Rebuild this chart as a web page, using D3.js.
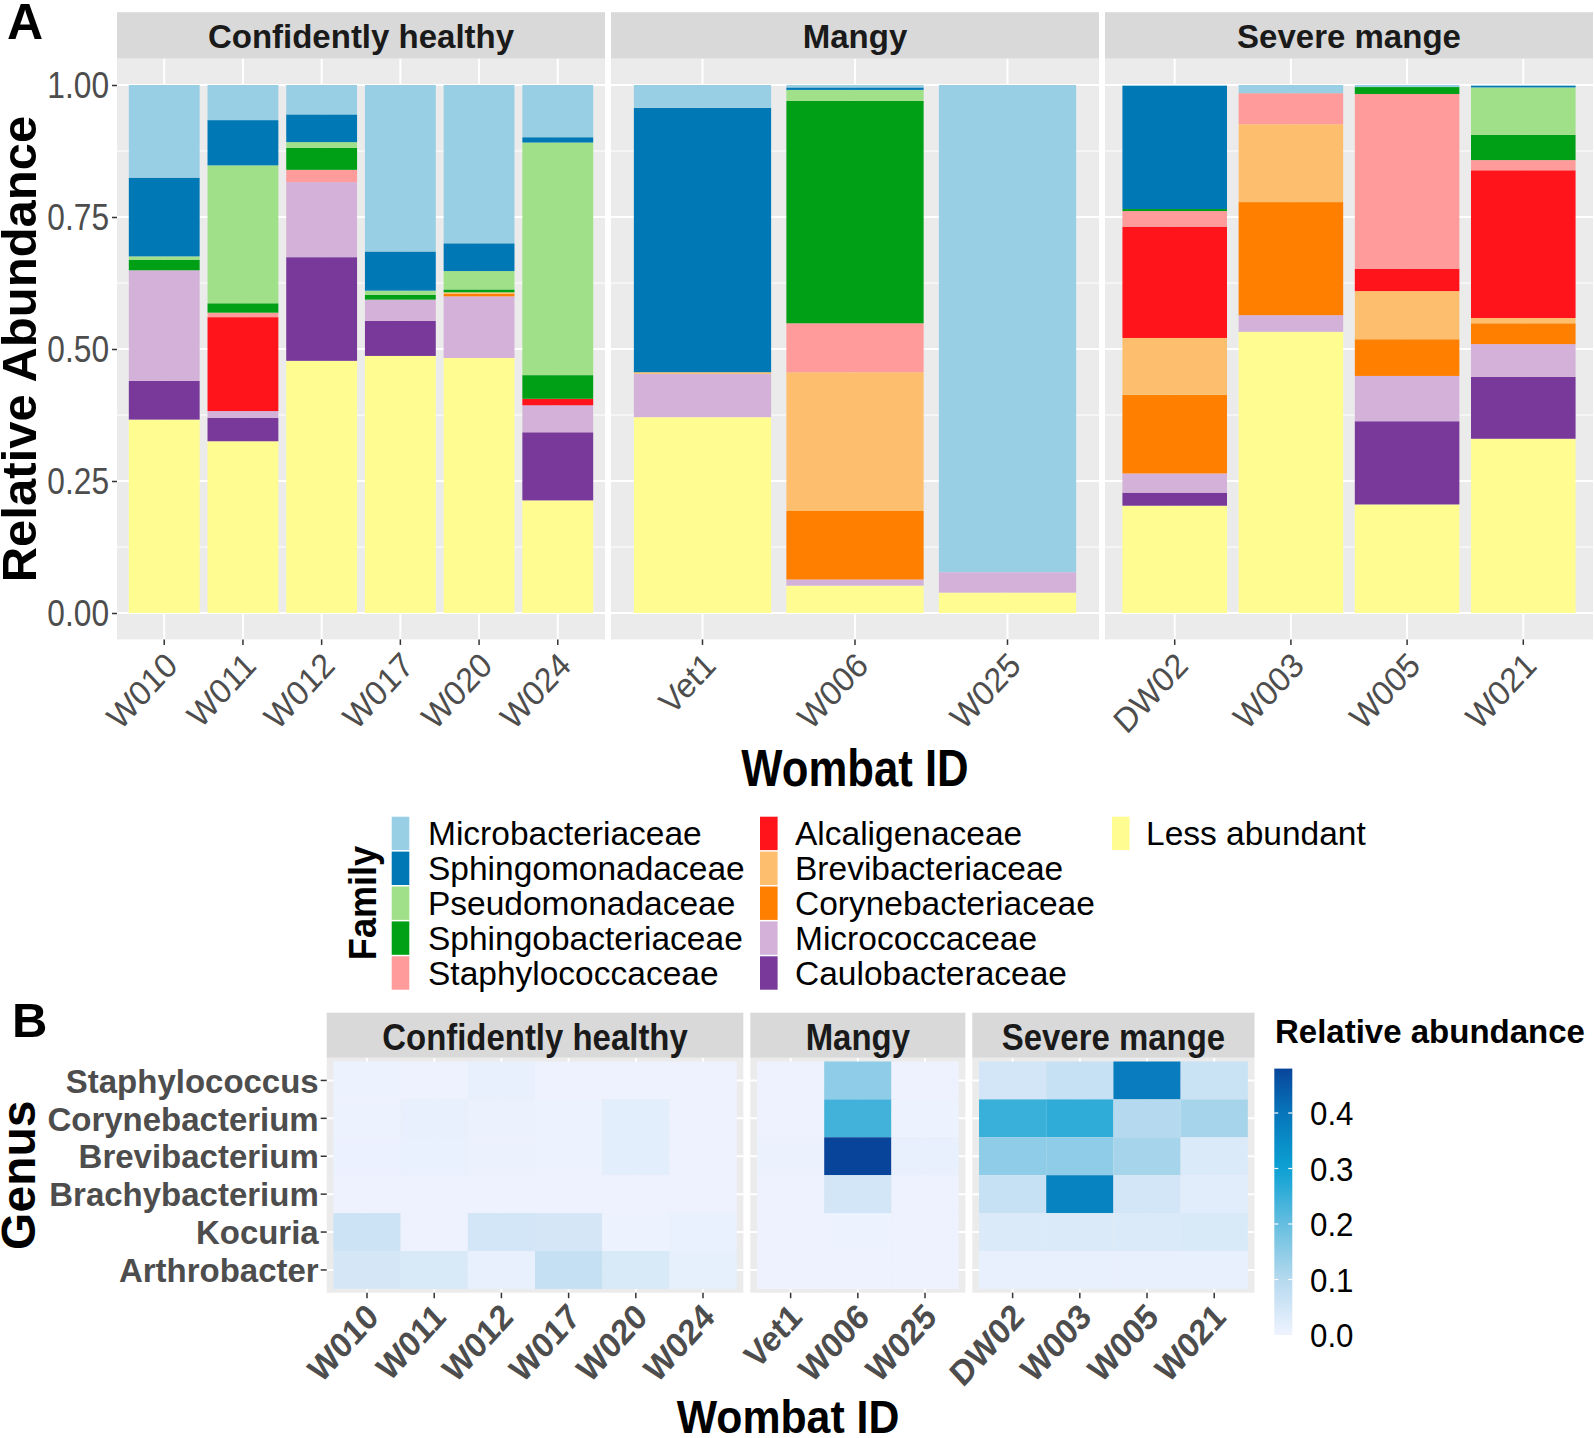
<!DOCTYPE html>
<html><head><meta charset="utf-8">
<script src="https://cdn.jsdelivr.net/npm/d3@7"></script>
<style>
body{margin:0;background:#fff}
text{font-family:"Liberation Sans",Arial,Helvetica,sans-serif}
</style>
</head><body>
<svg id="c" width="1594" height="1438"></svg>
<script>
// ---------------- DATA ----------------
const sampleIds = ["W010","W011","W012","W017","W020","W024","Vet1","W006","W025","DW02","W003","W005","W021"];
const sampleGroups = ["Confidently healthy","Confidently healthy","Confidently healthy","Confidently healthy","Confidently healthy","Confidently healthy","Mangy","Mangy","Mangy","Severe mange","Severe mange","Severe mange","Severe mange"];
const groupNames = ["Confidently healthy","Mangy","Severe mange"];

const familyNames = ["Microbacteriaceae","Sphingomonadaceae","Pseudomonadaceae","Sphingobacteriaceae","Staphylococcaceae","Alcaligenaceae","Brevibacteriaceae","Corynebacteriaceae","Micrococcaceae","Caulobacteraceae","Less abundant"];
const familyColors = ["#98CFE5","#0078B6","#A0E088","#00A016","#FF9B9B","#FF141C","#FDBF6E","#FF7F00","#D4B1D8","#78399A","#FFFC92"];

const microbacteriaceae  = [0.1754,0.0665,0.0557,0.3153,0.2998,0.0989, 0.0433,0.0046,0.9227, 0.0015,0.0155,0.0039,0.0015];
const sphingomonadaceae  = [0.1492,0.0857,0.0525,0.0742,0.0526,0.0101, 0.5007,0.0047,0.0000, 0.2334,0.0000,0.0000,0.0031];
const pseudomonadaceae   = [0.0062,0.2612,0.0108,0.0077,0.0348,0.4405, 0.0000,0.0208,0.0000, 0.0000,0.0000,0.0000,0.0897];
const sphingobacteriaceae= [0.0201,0.0178,0.0417,0.0093,0.0054,0.0448, 0.0000,0.4212,0.0000, 0.0039,0.0000,0.0131,0.0479];
const staphylococcaceae  = [0.0000,0.0085,0.0232,0.0000,0.0000,0.0000, 0.0000,0.0927,0.0000, 0.0294,0.0587,0.3308,0.0193];
const alcaligenaceae     = [0.0000,0.1778,0.0000,0.0000,0.0000,0.0123, 0.0000,0.0000,0.0000, 0.2109,0.0000,0.0425,0.2798];
const brevibacteriaceae  = [0.0000,0.0000,0.0000,0.0000,0.0031,0.0000, 0.0031,0.2628,0.0000, 0.1075,0.1476,0.0912,0.0100];
const corynebacteriaceae = [0.0000,0.0000,0.0000,0.0000,0.0046,0.0000, 0.0000,0.1298,0.0000, 0.1491,0.2141,0.0695,0.0394];
const micrococcaceae     = [0.2094,0.0131,0.1422,0.0402,0.1167,0.0511, 0.0820,0.0116,0.0387, 0.0363,0.0316,0.0858,0.0619];
const caulobacteraceae   = [0.0734,0.0441,0.1963,0.0664,0.0000,0.1290, 0.0000,0.0000,0.0000, 0.0248,0.0000,0.1576,0.1174];
const lessAbundant       = [0.3663,0.3253,0.4776,0.4869,0.4830,0.2133, 0.3709,0.0518,0.0386, 0.2032,0.5325,0.2056,0.3300];
const familyValues = [microbacteriaceae,sphingomonadaceae,pseudomonadaceae,sphingobacteriaceae,staphylococcaceae,alcaligenaceae,brevibacteriaceae,corynebacteriaceae,micrococcaceae,caulobacteraceae,lessAbundant];

const genusNames = ["Staphylococcus","Corynebacterium","Brevibacterium","Brachybacterium","Kocuria","Arthrobacter"];
const staphylococcus  = [0.005,0.003,0.012,0.004,0.003,0.003, 0.003,0.150,0.003, 0.050,0.070,0.385,0.065];
const corynebacterium = [0.005,0.010,0.006,0.005,0.020,0.004, 0.004,0.240,0.005, 0.250,0.260,0.100,0.120];
const brevibacterium  = [0.007,0.008,0.006,0.005,0.020,0.004, 0.006,0.480,0.012, 0.150,0.150,0.120,0.035];
const brachybacterium = [0.003,0.004,0.003,0.002,0.003,0.002, 0.004,0.050,0.004, 0.070,0.370,0.050,0.025];
const kocuria         = [0.060,0.003,0.050,0.045,0.005,0.008, 0.003,0.005,0.003, 0.035,0.035,0.035,0.040];
const arthrobacter    = [0.045,0.040,0.010,0.075,0.040,0.015, 0.003,0.003,0.003, 0.010,0.010,0.010,0.012];
const genusValues = [staphylococcus,corynebacterium,brevibacterium,brachybacterium,kocuria,arthrobacter];

const yTicksA = [0,0.25,0.5,0.75,1];
const yMinorA = [0.125,0.375,0.625,0.875];
const colorbarTicks = [0,0.1,0.2,0.3,0.4];
const colorStops = [0,0.1,0.2,0.3,0.4,0.48];
const colorStopColors = ["#EFF3FF","#B5D9EE","#66BEE0","#0BA1D3","#0776BA","#08459A"];

// ---------------- HELPERS ----------------
const svg = d3.select("#c");
function squeeze(sel,k){ sel.each(function(){ const l=this.getComputedTextLength(); if(l>0){ this.setAttribute("textLength",l*k); this.setAttribute("lengthAdjust","spacingAndGlyphs"); } }); }

const rows = sampleIds.map((id,i)=>{ const r={id:id,group:sampleGroups[i]}; familyNames.forEach((f,j)=>r[f]=familyValues[j][i]); return r; });
const stackKeys = familyNames.slice().reverse();
const colorOf = d3.scaleOrdinal().domain(familyNames).range(familyColors);

// ---------------- PANEL A ----------------
const A = {top:58.6, bottom:639.4, stripTop:12.2, x0:[117,611,1105], w:488};
const yA = d3.scaleLinear().domain([-0.05,1.05]).range([A.bottom,A.top]);
const gA = svg.append("g");

groupNames.forEach((grp,gi)=>{
  const ids = sampleIds.filter((d,i)=>sampleGroups[i]===grp);
  const x0 = A.x0[gi];
  const x = d3.scaleBand().domain(ids).range([x0,x0+A.w]).paddingInner(0.1).paddingOuter(0.15);
  const g = gA.append("g");
  g.append("rect").attr("x",x0).attr("y",A.top).attr("width",A.w).attr("height",A.bottom-A.top).attr("fill","#EBEBEB");
  g.selectAll(".mn").data(yMinorA).join("line").attr("x1",x0).attr("x2",x0+A.w).attr("y1",d=>yA(d)).attr("y2",d=>yA(d)).attr("stroke","#fff").attr("stroke-width",1);
  g.selectAll(".mj").data(yTicksA).join("line").attr("x1",x0).attr("x2",x0+A.w).attr("y1",d=>yA(d)).attr("y2",d=>yA(d)).attr("stroke","#fff").attr("stroke-width",2);
  g.selectAll(".vx").data(ids).join("line").attr("x1",d=>x(d)+x.bandwidth()/2).attr("x2",d=>x(d)+x.bandwidth()/2).attr("y1",A.top).attr("y2",A.bottom).attr("stroke","#fff").attr("stroke-width",2);
  const sub = rows.filter(r=>r.group===grp);
  const series = d3.stack().keys(stackKeys)(sub);
  series.forEach(s=>{
    g.selectAll(null).data(s.filter(d=>d[1]-d[0]>0)).join("rect")
      .attr("x",d=>x(d.data.id)).attr("width",x.bandwidth())
      .attr("y",d=>yA(d[1])).attr("height",d=>yA(d[0])-yA(d[1]))
      .attr("fill",colorOf(s.key));
  });
  g.append("rect").attr("x",x0).attr("y",A.stripTop).attr("width",A.w).attr("height",A.top-A.stripTop).attr("fill","#D9D9D9");
  g.append("text").attr("x",x0+A.w/2).attr("y",48).attr("text-anchor","middle").attr("font-size",33).attr("font-weight","bold").attr("fill","#1A1A1A").text(grp);
  const ax = g.append("g").attr("transform",`translate(0,${A.bottom})`).call(d3.axisBottom(x).tickSize(5.5));
  ax.select(".domain").remove();
  ax.selectAll(".tick line").attr("stroke","#333").attr("stroke-width",1.5);
  ax.selectAll(".tick text").attr("y",null).attr("dy",null).attr("text-anchor","end")
    .attr("transform","translate(15,28) scale(1,1.08) rotate(-45)").attr("font-size",32).attr("fill","#4D4D4D").attr("font-family",null);
});
const ayA = gA.append("g").attr("transform",`translate(${A.x0[0]},0)`).call(d3.axisLeft(yA).tickValues(yTicksA).tickFormat(d3.format(".2f")).tickSize(5).tickPadding(3));
ayA.select(".domain").remove();
ayA.selectAll(".tick line").attr("stroke","#333").attr("stroke-width",1.5);
ayA.selectAll(".tick text").attr("font-size",36).attr("fill","#4D4D4D").attr("font-family",null).attr("dy","0.36em").call(squeeze,0.88);

svg.append("text").attr("x",7).attr("y",39).attr("font-size",50).attr("font-weight","bold").text("A");
svg.append("text").attr("transform",`translate(36,${(A.top+A.bottom)/2}) rotate(-90)`).attr("text-anchor","middle").attr("font-size",49).attr("font-weight","bold").text("Relative Abundance");
svg.append("text").attr("x",855).attr("y",786).attr("text-anchor","middle").attr("font-size",52).attr("font-weight","bold").text("Wombat ID").call(squeeze,0.84);

// ---------------- LEGEND A ----------------
const legX = [391.7,760,1112], legTextX=[428,795,1146], legTop=816.7, legPitch=34.9;
const lg = svg.append("g");
familyNames.forEach((f,i)=>{
  const c=Math.floor(i/5), r=i%5;
  const y0 = legTop + r*legPitch;
  lg.append("rect").attr("x",legX[c]).attr("y",y0).attr("width",17.6).attr("height",33.4).attr("fill",familyColors[i]);
  lg.append("text").attr("x",legTextX[c]).attr("y",y0+16.7+12).attr("font-size",33.5).attr("fill","#000").text(f);
});
lg.append("text").attr("transform","translate(376,903) rotate(-90)").attr("text-anchor","middle").attr("font-size",38).attr("font-weight","bold").text("Family").call(squeeze,0.95);

// ---------------- PANEL B ----------------
const B = {top:1057.7, bottom:1292.7, stripTop:1012.7, x0:[326.7,750.3,972.3], unit:67.2};
const yB = d3.scaleBand().domain(genusNames).range([B.top,B.bottom]).paddingInner(0).paddingOuter(0.1);
const fillScale = d3.scaleLinear().domain(colorStops).range(colorStopColors).interpolate(d3.interpolateRgb).clamp(true);
const gB = svg.append("g");
const cells = [];
genusNames.forEach((gn,gi)=>sampleIds.forEach((id,si)=>cells.push({genus:gn,id:id,group:sampleGroups[si],v:genusValues[gi][si]})));

groupNames.forEach((grp,gi)=>{
  const ids = sampleIds.filter((d,i)=>sampleGroups[i]===grp);
  const x0 = B.x0[gi], w=(ids.length+0.2)*B.unit;
  const x = d3.scaleBand().domain(ids).range([x0,x0+w]).paddingInner(0).paddingOuter(0.1);
  const g = gB.append("g");
  g.append("rect").attr("x",x0).attr("y",B.top).attr("width",w).attr("height",B.bottom-B.top).attr("fill","#EBEBEB");
  g.selectAll(".gy").data(genusNames).join("line").attr("x1",x0).attr("x2",x0+w).attr("y1",d=>yB(d)+yB.bandwidth()/2).attr("y2",d=>yB(d)+yB.bandwidth()/2).attr("stroke","#fff").attr("stroke-width",2);
  g.selectAll(".gx").data(ids).join("line").attr("x1",d=>x(d)+x.bandwidth()/2).attr("x2",d=>x(d)+x.bandwidth()/2).attr("y1",B.top).attr("y2",B.bottom).attr("stroke","#fff").attr("stroke-width",2);
  g.selectAll(".cell").data(cells.filter(c=>c.group===grp)).join("rect")
    .attr("x",d=>x(d.id)).attr("y",d=>yB(d.genus)).attr("width",x.bandwidth()).attr("height",yB.bandwidth())
    .attr("fill",d=>fillScale(d.v));
  g.append("rect").attr("x",x0).attr("y",B.stripTop).attr("width",w).attr("height",B.top-B.stripTop).attr("fill","#D9D9D9");
  g.append("text").attr("x",x0+w/2).attr("y",1050).attr("text-anchor","middle").attr("font-size",37).attr("font-weight","bold").attr("fill","#1A1A1A").text(grp).call(squeeze,0.89);
  const ax = g.append("g").attr("transform",`translate(0,${B.bottom})`).call(d3.axisBottom(x).tickSize(5.5));
  ax.select(".domain").remove();
  ax.selectAll(".tick line").attr("stroke","#333").attr("stroke-width",1.5);
  ax.selectAll(".tick text").attr("y",null).attr("dy",null).attr("text-anchor","end")
    .attr("transform","translate(13.3,26.3) scale(1,1.1) rotate(-45)").attr("font-size",32).attr("font-weight","bold").attr("fill","#4D4D4D").attr("font-family",null);
});
const ayB = gB.append("g").attr("transform",`translate(${B.x0[0]},0)`).call(d3.axisLeft(yB).tickSize(6).tickPadding(2));
ayB.select(".domain").remove();
ayB.selectAll(".tick line").attr("stroke","#333").attr("stroke-width",1.5);
ayB.selectAll(".tick text").attr("font-size",34).attr("font-weight","bold").attr("fill","#4D4D4D").attr("font-family",null).attr("dy","0.36em").call(squeeze,0.97);

svg.append("text").attr("x",12).attr("y",1036.7).attr("font-size",49).attr("font-weight","bold").text("B");
svg.append("text").attr("transform",`translate(35,${(B.top+B.bottom)/2}) rotate(-90)`).attr("text-anchor","middle").attr("font-size",48).attr("font-weight","bold").text("Genus");
svg.append("text").attr("x",788).attr("y",1432.7).attr("text-anchor","middle").attr("font-size",46).attr("font-weight","bold").text("Wombat ID").call(squeeze,0.93);

// ---------------- COLORBAR ----------------
const cb = {x:1274.3, w:18, top:1068.6, bottom:1335};
const yC = d3.scaleLinear().domain([0,0.48]).range([cb.bottom,cb.top]);
const defs = svg.append("defs");
const grad = defs.append("linearGradient").attr("id","cbg").attr("x1",0).attr("y1",1).attr("x2",0).attr("y2",0);
d3.range(0,1.0001,0.05).forEach(t=>grad.append("stop").attr("offset",t).attr("stop-color",fillScale(t*0.48)));
svg.append("rect").attr("x",cb.x).attr("y",cb.top).attr("width",cb.w).attr("height",cb.bottom-cb.top).attr("fill","url(#cbg)");
svg.selectAll(".cbt").data(colorbarTicks.filter(d=>d>0)).join("g").each(function(d){
  const g=d3.select(this);
  g.append("line").attr("x1",cb.x).attr("x2",cb.x+4).attr("y1",yC(d)).attr("y2",yC(d)).attr("stroke","#fff").attr("stroke-width",1.2);
  g.append("line").attr("x1",cb.x+cb.w-4).attr("x2",cb.x+cb.w).attr("y1",yC(d)).attr("y2",yC(d)).attr("stroke","#fff").attr("stroke-width",1.2);
});
svg.selectAll(".cbl").data(colorbarTicks).join("text").attr("x",1310).attr("y",d=>yC(d)).attr("dy","0.36em").attr("font-size",34).attr("fill","#000").text(d=>d3.format(".1f")(d)).call(squeeze,0.92);
svg.append("text").attr("x",1275).attr("y",1043).attr("font-size",33).attr("font-weight","bold").text("Relative abundance");
</script>
</body></html>
